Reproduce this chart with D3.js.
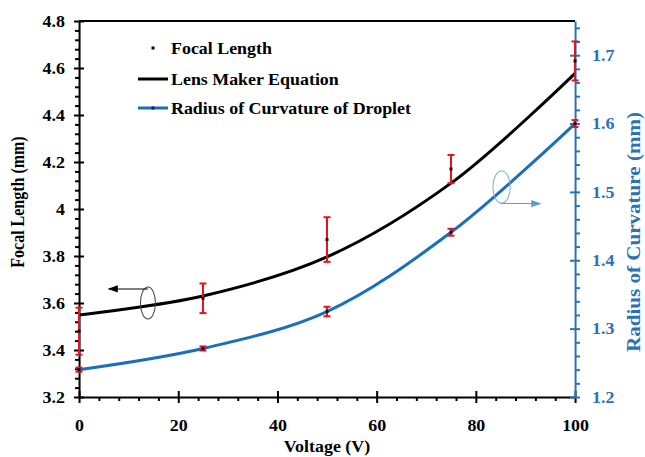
<!DOCTYPE html>
<html>
<head>
<meta charset="utf-8">
<script src="https://cdn.jsdelivr.net/npm/d3@7"></script>
<style>
  body { margin:0; background:#fff; }
  svg line, svg path, svg ellipse { vector-effect:non-scaling-stroke; }
</style>
</head>
<body>
<svg id="chart" width="645" height="457"></svg>
<script>
// data
var voltage = [0, 25, 50, 75, 100];
var focalLength = [3.48, 3.62, 3.87, 4.17, 4.63];
var focalErr = [0.10, 0.063, 0.095, 0.06, 0.083];
var lensMaker = [3.549, 3.63, 3.796, 4.11, 4.577];
var radius = [1.240, 1.271, 1.325, 1.441, 1.600];
var radiusErr = [0.003, 0.003, 0.007, 0.005, 0.005];

var xTicks = [0, 20, 40, 60, 80, 100];
var leftTicks = [3.2, 3.4, 3.6, 3.8, 4, 4.2, 4.4, 4.6, 4.8];
var rightTicks = [1.2, 1.3, 1.4, 1.5, 1.6, 1.7];

var seriesNames = ["Focal Length", "Lens Maker Equation", "Radius of Curvature of Droplet"];

var blue = "#1a6fbd", axisBlue = "#2a72b8", red = "#e3141c";
var serif = "'Liberation Serif', 'Times New Roman', Times, serif";

// the source picture is a bit stretched sideways, so draw in a narrower box
var sx = 1.12;
var svg = d3.select("#chart")
  .attr("viewBox", "0 0 " + (645 / sx) + " 457")
  .attr("preserveAspectRatio", "none")
  .attr("font-family", serif);

function px(v) { return v / sx; }

var x = d3.scaleLinear().domain([0, 100]).range([px(79), px(575)]);
var yL = d3.scaleLinear().domain([3.2, 4.8]).range([397, 21]);
var yR = d3.scaleLinear().domain([1.2, 1.75]).range([397, 21]);

//frame top line
svg.append("line")
  .attr("x1", x(0)).attr("x2", x(100))
  .attr("y1", yL(4.8)).attr("y2", yL(4.8))
  .attr("stroke", "black").attr("stroke-width", 2);

//minor ticks
function minor(axis, vals) { return axis.tickValues(vals).tickFormat("").tickSizeOuter(0); }

var xMinor = d3.range(0, 101, 4).filter(function(v){ return v % 20 != 0; });
var lMinor = d3.range(0, 41).map(function(i){ return 3.2 + i * 0.04; })
  .filter(function(v, i){ return i % 5 != 0; });
var rMinor = d3.range(0, 28).map(function(i){ return 1.2 + i * 0.02; })
  .filter(function(v, i){ return i % 5 != 0; });

svg.append("g").attr("transform", "translate(0,397)")
  .call(minor(d3.axisBottom(x).tickSize(4), xMinor))
  .call(function(g){ g.select(".domain").remove(); g.selectAll("line").attr("stroke-width", 2); });
svg.append("g").attr("transform", "translate(" + x(0) + ",0)")
  .call(minor(d3.axisLeft(yL).tickSize(px(4)), lMinor))
  .call(function(g){ g.select(".domain").remove(); g.selectAll("line").attr("stroke-width", 2); });
svg.append("g").attr("transform", "translate(" + x(100) + ",0)")
  .call(minor(d3.axisRight(yR).tickSize(px(5)), rMinor))
  .call(function(g){ g.select(".domain").remove(); g.selectAll("line").attr("stroke", axisBlue).attr("stroke-width", 2); });

//major axes, ticks cross the line
var bottom = svg.append("g").attr("transform", "translate(0,397)")
  .call(d3.axisBottom(x).tickValues(xTicks).tickSize(6).tickSizeOuter(0).tickPadding(17));
bottom.selectAll(".tick line").attr("y1", -6);

var left = svg.append("g").attr("transform", "translate(" + x(0) + ",0)")
  .call(d3.axisLeft(yL).tickValues(leftTicks).tickFormat(d3.format("~g")).tickSize(px(5)).tickSizeOuter(0).tickPadding(px(9)));
left.selectAll(".tick line").attr("x1", px(5));

var right = svg.append("g").attr("transform", "translate(" + x(100) + ",0)")
  .call(d3.axisRight(yR).tickValues(rightTicks).tickFormat(d3.format(".1f")).tickSize(px(5)).tickSizeOuter(0).tickPadding(px(12)));
right.selectAll(".tick line").attr("x1", px(-5));
right.select(".domain").attr("stroke", axisBlue);
right.selectAll(".tick line").attr("stroke", axisBlue);
right.selectAll(".tick text").attr("fill", axisBlue);

[bottom, left, right].forEach(function(g){
  g.attr("font-family", serif).attr("font-weight", "bold").attr("font-size", 16);
  g.select(".domain").attr("stroke-width", 2);
  g.selectAll(".tick line").attr("stroke-width", 2);
});

//curves
var lensLine = d3.line()
  .x(function(d, i){ return x(voltage[i]); })
  .y(function(d){ return yL(d); })
  .curve(d3.curveCatmullRom);
var radLine = d3.line()
  .x(function(d, i){ return x(voltage[i]); })
  .y(function(d){ return yR(d); })
  .curve(d3.curveCatmullRom);

svg.append("path").datum(lensMaker).attr("d", lensLine)
  .attr("fill", "none").attr("stroke", "black").attr("stroke-width", 3);
svg.append("path").datum(radius).attr("d", radLine)
  .attr("fill", "none").attr("stroke", blue).attr("stroke-width", 3);

//error bars
function errorBars(vals, errs, y) {
  var g = svg.append("g");
  voltage.forEach(function(v, i){
    var cx = x(v), lo = y(vals[i] - errs[i]), hi = y(vals[i] + errs[i]);
    g.append("line").attr("x1", cx).attr("x2", cx).attr("y1", lo).attr("y2", hi)
      .attr("stroke", red).attr("stroke-width", 2);
    [lo, hi].forEach(function(yy){
      g.append("line").attr("x1", cx - px(3.5)).attr("x2", cx + px(3.5)).attr("y1", yy).attr("y2", yy)
        .attr("stroke", red).attr("stroke-width", 2);
    });
    g.append("rect").attr("x", cx - px(1.5)).attr("y", y(vals[i]) - 1.5)
      .attr("width", px(3)).attr("height", 3).attr("fill", "#111");
  });
}
errorBars(focalLength, focalErr, yL);
errorBars(radius, radiusErr, yR);

//legend
var legY = [48, 79, 108];
svg.append("rect").attr("x", px(151.5)).attr("y", legY[0] - 1.5).attr("width", px(3)).attr("height", 3).attr("fill", "black");
svg.append("line").attr("x1", px(138)).attr("x2", px(168)).attr("y1", legY[1]).attr("y2", legY[1])
  .attr("stroke", "black").attr("stroke-width", 3);
svg.append("line").attr("x1", px(138)).attr("x2", px(168)).attr("y1", legY[2]).attr("y2", legY[2])
  .attr("stroke", blue).attr("stroke-width", 3);
svg.append("rect").attr("x", px(151.5)).attr("y", legY[2] - 1.5).attr("width", px(3)).attr("height", 3).attr("fill", "#222");
svg.selectAll(".leg").data(seriesNames).enter().append("text")
  .attr("x", px(171)).attr("y", function(d, i){ return legY[i] + 6; })
  .attr("font-weight", "bold").attr("font-size", 16).text(function(d){ return d; });

//axis titles
svg.append("text").attr("transform", "translate(" + px(24) + ",202) rotate(-90)")
  .attr("text-anchor", "middle").attr("font-weight", "bold").attr("font-size", 16).text("Focal Length (mm)");
svg.append("text").attr("x", px(327)).attr("y", 452)
  .attr("text-anchor", "middle").attr("font-weight", "bold").attr("font-size", 16).text("Voltage (V)");
svg.append("text").attr("transform", "translate(" + px(640) + ",232) rotate(-90)")
  .attr("text-anchor", "middle").attr("fill", axisBlue).attr("font-weight", "bold").attr("font-size", 16)
  .attr("textLength", 240).attr("lengthAdjust", "spacingAndGlyphs")
  .text("Radius of Curvature (mm)");

//ellipse annotations pointing to each axis
var defs = svg.append("defs");
function arrowHead(id, color) {
  defs.append("marker").attr("id", id).attr("viewBox", "0 0 10 10")
    .attr("refX", 9).attr("refY", 5).attr("markerWidth", 9).attr("markerHeight", 9)
    .attr("markerUnits", "userSpaceOnUse").attr("orient", "auto")
    .append("path").attr("d", "M0,1L10,5L0,9Z").attr("fill", color);
}
arrowHead("arrL", "black");
arrowHead("arrR", "#5b9bd5");

svg.append("ellipse").attr("cx", x(13.9)).attr("cy", yL(3.6))
  .attr("rx", px(7.5)).attr("ry", 16).attr("fill", "none").attr("stroke", "#444").attr("stroke-width", 1);
svg.append("line").attr("x1", x(13.9)).attr("x2", x(6)).attr("y1", yL(3.66)).attr("y2", yL(3.66))
  .attr("stroke", "black").attr("stroke-width", 1).attr("marker-end", "url(#arrL)");

svg.append("ellipse").attr("cx", x(85.2)).attr("cy", yR(1.507))
  .attr("rx", px(8.7)).attr("ry", 16).attr("fill", "none").attr("stroke", "#7fa9d6").attr("stroke-width", 1);
svg.append("line").attr("x1", x(85)).attr("x2", x(93)).attr("y1", yR(1.483)).attr("y2", yR(1.483))
  .attr("stroke", "#5b9bd5").attr("stroke-width", 1).attr("marker-end", "url(#arrR)");
</script>
</body>
</html>
